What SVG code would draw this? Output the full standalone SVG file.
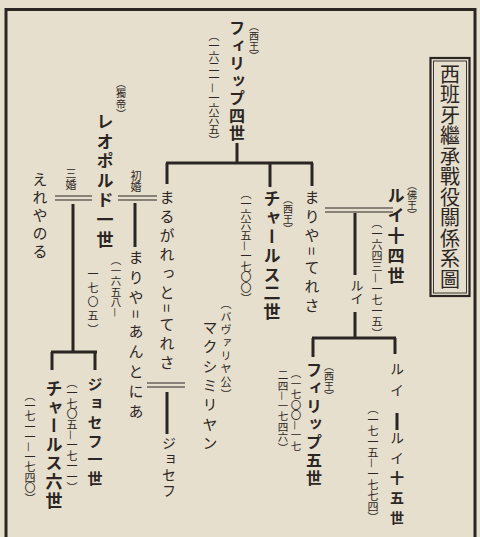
<svg xmlns="http://www.w3.org/2000/svg" width="480" height="537" viewBox="0 0 480 537">
<style>
.v{writing-mode:vertical-rl;font-family:"Noto Sans CJK JP","Noto Sans CJK SC",sans-serif;fill:#2b2624}
.b{font-weight:bold}
.ln{stroke:#2b2624;stroke-width:3;fill:none}
.dl{stroke:#2b2624;stroke-width:1.1;fill:none}
.fr{stroke:#2b2624;fill:none}
</style>
<rect x="0" y="0" width="480" height="537" fill="#e6dfcd"/>
<g id="frame">
<path class="fr" stroke-width="3" d="M6,540 V9.5 H475 V540"/>
</g>
<g id="title">
<rect class="fr" stroke-width="2.2" x="430.5" y="58" width="39" height="238"/>
<rect class="fr" stroke-width="0.9" x="433.5" y="61" width="33" height="232"/>
<text class="v" x="450" y="64" font-size="20" letter-spacing="0.5">西班牙繼承戰役關係系圖</text>
</g>
<g id="connectors">
<path class="ln" d="M237,143 V163 M166,163 H313 M167,163 V184 M270,163 V187 M312,163 V186"/>
<path class="ln" d="M167,392 V434"/>
<path class="dl" d="M147,383 H185 M147,387 H185"/>
<path class="dl" d="M325,208 H393 M325,212 H393"/>
<path class="ln" d="M355,213 V275 M355,312 V338 M312,338 H396 M313,338 V357 M395,338 V354"/>
<path class="ln" d="M397,413 V430"/>
<path class="dl" d="M118,196 H157 M118,200 H157"/>
<path class="ln" d="M135,203 V247"/>
<path class="dl" d="M55,196 H92 M55,200 H92"/>
<path class="ln" d="M73,204 V352 M51,352 H97 M52,352 V370 M95,352 V370"/>
</g>
<g id="philip4">
<text class="v" x="254" y="21" font-size="10">（西王）</text>
<text class="v b" x="237" y="20" font-size="16" letter-spacing="1.5">フィリップ四世</text>
<text class="v" x="214" y="30" font-size="11" letter-spacing="-0.4">（一六二一—一六六五）</text>
</g>
<g id="margaret">
<text class="v" x="167" y="190" font-size="15" letter-spacing="4">まるがれっと=てれさ</text>
</g>
<g id="joseph-bavaria">
<text class="v" x="169" y="436" font-size="14" letter-spacing="2">ジョセフ</text>
</g>
<g id="maximilian">
<text class="v" x="226" y="298" font-size="11" letter-spacing="2">（バヴァリヤ公）</text>
<text class="v" x="210" y="320" font-size="15" letter-spacing="4.3">マクシミリヤン</text>
</g>
<g id="charles2">
<text class="v" x="288" y="194" font-size="10">（西王）</text>
<text class="v b" x="272" y="190" font-size="17" letter-spacing="1.9">チャールス二世</text>
<text class="v" x="246" y="188" font-size="11" letter-spacing="-0.4">（一六六五—一七〇〇）</text>
</g>
<g id="maria-theresa">
<text class="v" x="312" y="190" font-size="15" letter-spacing="4">まりや=てれさ</text>
</g>
<g id="louis14">
<text class="v" x="412" y="180" font-size="10">（佛王）</text>
<text class="v b" x="396" y="187" font-size="17" letter-spacing="3">ルイ十四世</text>
<text class="v" x="377" y="217" font-size="11" letter-spacing="0.2">（一六四三—一七一五）</text>
</g>
<g id="louis-dauphin">
<text class="v" x="357" y="279" font-size="13">ルイ</text>
</g>
<g id="philip5">
<text class="v" x="329" y="361" font-size="10">（西王）</text>
<text class="v b" x="314" y="362" font-size="16" letter-spacing="2">フィリップ五世</text>
<text class="v" x="296" y="368" font-size="10.5">（一七〇〇—一七</text>
<text class="v" x="283" y="370" font-size="10.5">二四—一七四六）</text>
</g>
<g id="louis15">
<text class="v" x="397" y="362" font-size="14" letter-spacing="7">ルイ</text>
<text class="v" x="397" y="431" font-size="14" letter-spacing="6">ルイ<tspan class="b">十五世</tspan></text>
<text class="v" x="373" y="403" font-size="11">（一七一五—一七七四）</text>
</g>
<g id="leopold">
<text class="v" x="121" y="78" font-size="10" letter-spacing="0.5">（獨帝）</text>
<text class="v b" x="105" y="113" font-size="17" letter-spacing="2.6">レオポルド一世</text>
<text class="v" x="116" y="255" font-size="10.5">（一六五八—</text>
<text class="v" x="93" y="268" font-size="11" letter-spacing="3">一七〇五）</text>
</g>
<g id="marriage1">
<text class="v" x="136" y="170" font-size="11">初婚</text>
</g>
<g id="maria-antonia">
<text class="v" x="136" y="250" font-size="15" letter-spacing="5">まりや=あんとにあ</text>
</g>
<g id="marriage3">
<text class="v" x="71" y="168" font-size="11">三婚</text>
</g>
<g id="eleonore">
<text class="v" x="40" y="172" font-size="15" letter-spacing="3">えれやのる</text>
</g>
<g id="joseph1">
<text class="v b" x="95" y="377" font-size="15" letter-spacing="3.8">ジョセフ一世</text>
<text class="v" x="72" y="377" font-size="11" letter-spacing="-0.4">（一七〇五—一七一一）</text>
</g>
<g id="charles6">
<text class="v b" x="54" y="380" font-size="17" letter-spacing="1.6">チャールス六世</text>
<text class="v" x="30" y="390" font-size="11" letter-spacing="-0.6">（一七一一—一七四〇）</text>
</g>
</svg>
